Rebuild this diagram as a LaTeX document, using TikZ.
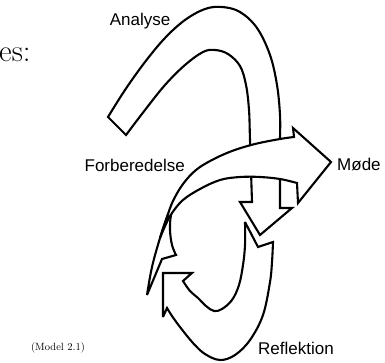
\documentclass[tikz,border=0pt]{standalone}
\usepackage{fontspec}
\usepackage{tikz}
\newfontfamily\labelfont{Liberation Sans}

\begin{document}
\begin{tikzpicture}[x=1pt,y=-1pt,
    band/.style={draw=black, line width=2.1pt, fill=white, miter limit=4},
    lbl/.style={inner sep=0pt, font=\labelfont\fontsize{17}{20}\selectfont}]
            \useasboundingbox (0,0) rectangle (385,363);
            % Reflektion
            \draw[band] (245,222) -- (258,247) -- (273,242)
                -- plot[smooth, tension=0.6] coordinates {(273,242) (272,262) (270,282) (263,315) (250,340) (235,355) (220,360) (205,354) (193,343) (180,327) (172,316) (167,308)}
                -- (163,317) -- (163,273) -- (192,273) -- (183,281)
                -- plot[smooth, tension=0.6] coordinates {(183,281) (190,291) (198,298) (206,306) (214,311) (222,309) (232,300) (239,285) (243,265) (245,245) (245,222)}
                -- cycle;
            % small arrow behind Forberedelse
            \draw[band] plot[smooth, tension=0.6] coordinates {(147,295) (152,267) (160,238) (167,217) (173,203)}
                -- (175,203)
                -- plot[smooth, tension=0.6] coordinates {(175,203) (171,215) (170,230) (172,245) (176,255)}
                -- (162,259) -- cycle;
            % Analyse
            \draw[band] plot[smooth, tension=0.6] coordinates {(108,117) (125,90) (145,62) (165,38) (185,20) (205,9) (222,7) (240,12) (257,28) (270,55) (277,85) (280,115) (280,137)}
                -- (280,208) -- (292,208) -- (260,235) -- (240,202) -- (252,202)
                -- plot[smooth, tension=0.6] coordinates {(252,202) (250,140) (249,110) (246,85) (240,66) (228,54) (215,50) (203,52) (185,65) (165,85) (145,110) (126,135)}
                -- cycle;
            % Forberedelse
            \draw[band] plot[smooth, tension=0.6] coordinates {(160,238) (167,217) (173,201) (183,184) (196,170) (212,160) (232,151) (255,144) (280,139) (294,137)}
                -- (293,128) -- (331,162) -- (298,203) -- (297,183)
                -- plot[smooth, tension=0.6] coordinates {(297,183) (280,179) (260,177) (240,177) (220,180) (200,189) (183,200) (172,213) (166,224) (160,238)}
                -- cycle;
            \node[lbl] (analyse) at (140,21) {Analyse};
            \node[lbl, anchor=east] (forb) at (185,165) {Forberedelse};
            \node[lbl, anchor=west] (mode) at (337,164) {Møde};
            \node[lbl] (refl) at (296,348) {Reflektion};
            \node[inner sep=0pt, font=\fontsize{10.5}{12}\selectfont] (model) at (58,348) {(Model 2.1)};
            \node[inner sep=0pt, anchor=base west, font=\fontsize{31}{34}\selectfont] (es) at (-1,62) {es:};
        \end{tikzpicture}
\end{document}
